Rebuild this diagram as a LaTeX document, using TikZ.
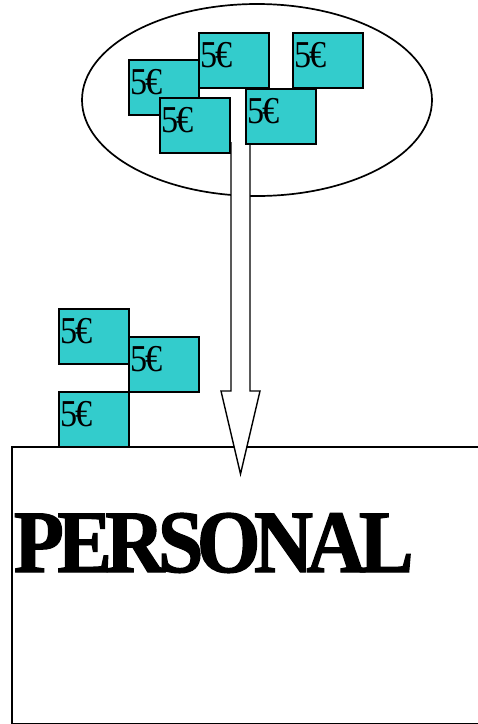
\documentclass[tikz,border=0pt]{standalone}
\usepackage{fontspec}
\setmainfont{Liberation Serif}
\newfontfamily\billfont[FakeStretch=0.9,LetterSpace=-6]{Liberation Serif}
\newfontfamily\stafffont[FakeStretch=0.92,LetterSpace=-7.4,FakeBold=1.5]{Liberation Serif Bold}
\usetikzlibrary{shapes.geometric}
\definecolor{Bill}{HTML}{33CCCC}

\begin{document}
\begin{tikzpicture}[
  x=1pt,y=-1pt,
  line width=1.7pt,
  bill/.style={draw=black,fill=Bill,anchor=north west,minimum width=70pt,inner xsep=2pt,inner ysep=0pt,
    text height=35pt,text depth=20pt,text width=66pt,align=left,font=\billfont\fontsize{38}{38}\selectfont},
  purse/.style={draw=black,ellipse,minimum width=350pt,minimum height=192pt},
  staff/.style={draw=black,fill=white,anchor=north west,minimum width=468pt,minimum height=277pt},
  block/.style={draw=black,fill=white,line join=miter}
]
  \useasboundingbox (0,0) rectangle (478,724);

  \node[staff] (box) at (11,446) {};
  \node[anchor=base west,inner sep=0pt,font=\stafffont\fontsize{89}{89}\selectfont] (personal) at (13,572) {PERSONAL};

  \node[purse] (pot) at (257,100) {};

  % bills in the pot
  \node[bill] (b1) at (128,59) {5€};
  \node[bill] (b2) at (198,32) {5€};
  \node[bill] (b3) at (292,32) {5€};
  \node[bill] (b4) at (159,97) {5€};

  % the arrow down to the staff
  \coordinate (sl) at (231,142);
  \coordinate (sr) at (250,142);
  \coordinate (tip) at (240.5,474);
  \draw[block,line width=1.4pt] (sl) -- (231,391) -- (221,391) -- (tip) -- (260,391) -- (250,391) -- (sr);

  \node[bill] (b5) at (245,88) {5€};

  % bills already paid out
  \node[bill] (b6) at (58,308) {5€};
  \node[bill] (b7) at (128,336) {5€};
  \node[bill] (b8) at (58,391) {5€};
\end{tikzpicture}
\end{document}
